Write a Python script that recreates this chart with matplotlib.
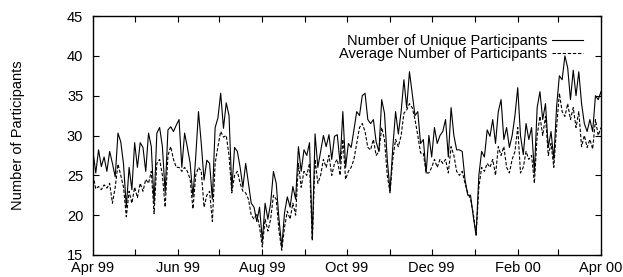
import pandas as pd
import matplotlib
matplotlib.use('Agg')
import matplotlib.pyplot as plt
import matplotlib.dates as mdates

plt.rcParams['font.family'] = ['Liberation Sans', 'DejaVu Sans']

# one value every 2 days, 1 Apr 1999 .. 1 Apr 2000
start = '1999-04-01'
step_days = 2

unique = [28.0, 25.3, 28.2, 26.1, 27.3, 25.5, 28.0, 26.5, 24.8, 30.3,
          29.2, 26.4, 21.0, 26.0, 23.2, 29.1, 26.0, 29.1, 28.5, 25.5,
          30.3, 28.6, 21.5, 30.3, 31.0, 28.6, 22.8, 30.7, 31.1, 30.5,
          31.3, 32.0, 26.0, 30.3, 28.5, 26.5, 22.3, 27.3, 33.0, 29.0,
          24.4, 26.9, 26.5, 22.0, 31.0, 32.2, 35.3, 30.9, 34.1, 32.5,
          23.2, 28.5, 28.0, 26.0, 23.5, 26.5, 24.0, 21.5, 21.0, 19.2,
          21.0, 16.8, 21.5, 19.5, 21.5, 25.5, 24.0, 19.5, 16.0, 20.3,
          22.3, 21.0, 23.6, 22.0, 28.6, 25.5, 28.2, 27.5, 29.1, 17.0,
          30.2, 26.0, 28.0, 30.0, 28.6, 30.1, 27.0, 29.9, 30.1, 26.5,
          33.0, 26.0, 29.0, 28.5, 30.7, 33.0, 32.5, 35.0, 35.3, 32.0,
          31.5, 32.0, 29.2, 28.0, 34.5, 32.8, 27.0, 23.0, 28.5, 33.0,
          30.2, 33.0, 37.0, 33.5, 38.0, 35.3, 32.5, 33.0, 29.0, 29.5,
          25.3, 30.0, 27.3, 31.0, 29.0, 30.0, 30.5, 32.0, 27.3, 33.5,
          30.0, 28.2, 28.2, 28.0, 24.5, 22.5, 22.5, 19.8, 17.5, 25.0,
          28.0, 27.3, 30.7, 29.9, 32.0, 29.0, 33.0, 34.5, 29.5, 31.0,
          28.5, 30.0, 32.5, 36.0, 30.0, 27.6, 31.5, 29.5, 31.0, 25.3,
          33.5, 35.5, 32.0, 34.0, 28.5, 30.5, 27.0, 33.6, 37.5, 37.0,
          40.0, 38.5, 34.5, 38.2, 35.0, 38.0, 34.0, 31.5, 30.5, 32.0,
          30.5, 35.0, 34.5, 35.5]

average = [25.0, 23.3, 23.6, 23.2, 23.8, 23.4, 24.0, 21.5, 23.5, 26.4,
           25.0, 23.5, 19.8, 23.0, 21.5, 23.5, 22.2, 24.0, 23.0, 24.5,
           24.0, 25.5, 20.2, 26.5, 27.0, 25.0, 21.0, 27.5, 28.6, 27.0,
           26.0, 26.0, 25.5, 26.0, 25.5, 24.5, 20.8, 25.0, 26.0, 25.5,
           21.0, 22.5, 23.0, 19.2, 26.5, 28.6, 30.5, 29.8, 30.0, 27.5,
           22.8, 25.0, 25.5, 24.0, 23.0, 22.8, 22.0, 20.0, 19.5, 20.2,
           18.5, 16.0, 19.5, 18.0, 19.5, 22.5, 22.0, 18.0, 15.6, 18.5,
           20.5, 19.5, 21.5, 20.0, 26.5, 23.5, 25.5, 25.0, 26.5, 16.8,
           27.0, 24.0, 25.0, 27.0, 26.0, 27.5, 25.0, 26.5, 27.0, 25.0,
           29.5, 24.5, 25.5, 26.0, 27.0, 29.0, 31.0, 31.5, 30.5, 28.5,
           28.2, 29.5, 27.5, 28.0, 31.0, 29.5, 25.0, 22.8, 27.0, 29.5,
           28.6, 30.0, 32.8, 33.2, 34.0, 33.5, 32.0, 30.0, 27.8, 27.8,
           25.3, 25.3, 26.0, 27.0, 26.0, 27.0, 26.5, 27.0, 25.3, 28.6,
           27.5, 25.5, 25.0, 25.5, 24.0, 22.8, 22.0, 20.2, 17.5, 23.5,
           26.0, 25.5, 26.5, 26.0, 27.0, 25.0, 28.6, 27.5, 28.6, 26.0,
           25.3, 27.0, 28.0, 31.0, 25.3, 26.0, 28.0, 27.0, 27.5, 24.0,
           30.0, 32.4, 30.0, 32.4, 27.5, 29.0, 26.0, 31.0, 35.3, 33.0,
           32.4, 34.0, 32.0, 33.5, 31.0, 33.0, 28.6, 30.0, 28.5, 29.5,
           28.3, 32.0, 30.0, 31.0]

labels = ['Number of Unique Participants', 'Average Number of Participants']

days = pd.date_range(start, periods=len(unique), freq='%dD' % step_days)

fig = plt.figure(figsize=(6.23, 2.77), dpi=100)
ax = fig.add_axes([93/623, 1-255/277, 508/623, 239/277])

ax.plot(days, unique, color='black', lw=0.8, label=labels[0])
ax.plot(days, average, color='black', lw=0.8, dashes=(3, 1.6), label=labels[1])

ax.set_xlim(pd.Timestamp('1999-04-01'), pd.Timestamp('2000-04-01'))
ax.set_ylim(15, 45)
ax.set_yticks(range(15, 46, 5))

ax.xaxis.set_major_locator(mdates.MonthLocator(bymonth=[2, 4, 6, 8, 10, 12]))
ax.xaxis.set_minor_locator(mdates.MonthLocator(bymonth=[1, 3, 5, 7, 9, 11]))
ax.xaxis.set_major_formatter(mdates.DateFormatter('%b %y'))

ax.tick_params(which='both', direction='in', length=4.5, width=0.8,
               top=True, right=True, labelsize=10.5)
ax.tick_params(axis='y', pad=7)
ax.tick_params(axis='x', pad=4)
for s in ax.spines.values():
    s.set_linewidth(1.0)

ax.set_ylabel('Number of Participants', fontsize=10.5)
ax.yaxis.set_label_coords(-0.134, 0.5)

ax.legend(loc='upper right', bbox_to_anchor=(0.9646, 0.923), frameon=False,
          markerfirst=False, fontsize=10.5, handlelength=2.1,
          handletextpad=0.35, borderpad=0, borderaxespad=0, labelspacing=-0.1)

fig.savefig('out.png', dpi=100)
